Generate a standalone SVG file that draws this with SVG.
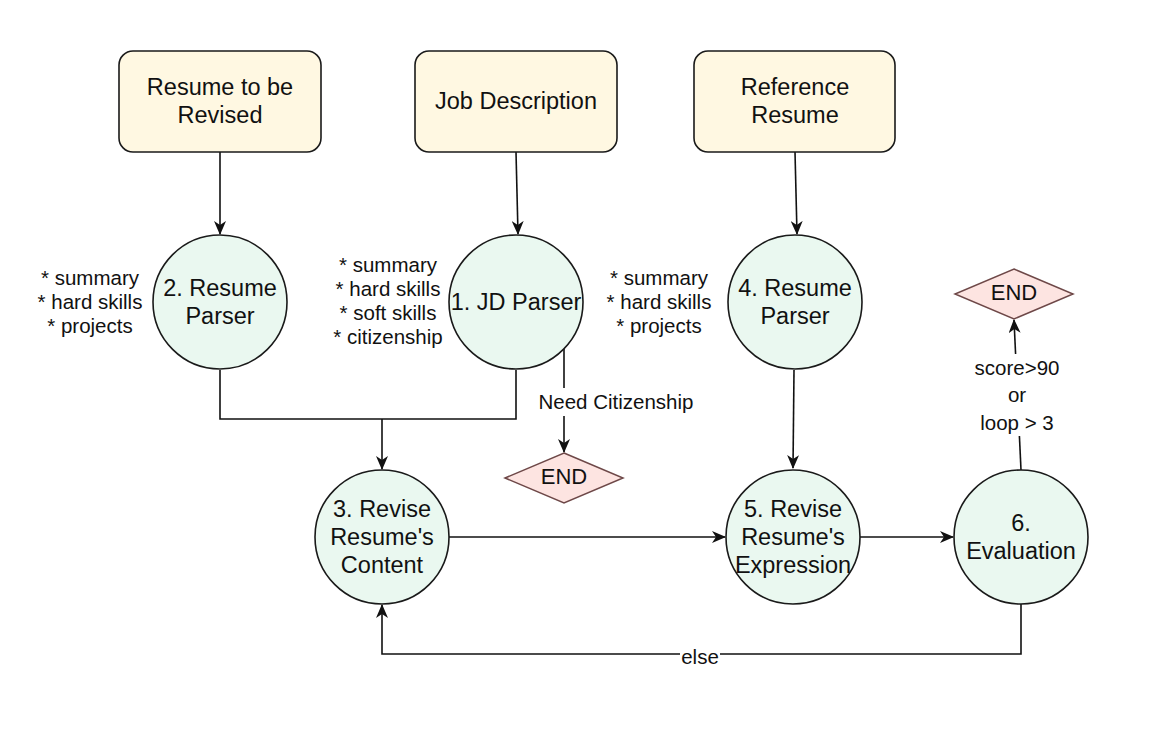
<svg xmlns="http://www.w3.org/2000/svg" width="1154" height="734" viewBox="0 0 1154 734">
<style>
  .box { fill: #fff8e2; stroke: #1a1a1a; stroke-width: 1.6; }
  .circ { fill: #eaf8f0; stroke: #1a1a1a; stroke-width: 1.6; }
  .dia { fill: #fde4e1; stroke: #6e4848; stroke-width: 1.5; }
  .edge { fill: none; stroke: #111; stroke-width: 1.6; }
  .nt { font-family: "Liberation Sans", Arial, sans-serif; font-size: 23.5px; fill: #111; text-anchor: middle; }
  .lt { font-family: "Liberation Sans", Arial, sans-serif; font-size: 20.5px; fill: #111; text-anchor: middle; }
  .bg { fill: #ffffff; }
</style>
<defs>
  <marker id="arr" viewBox="0 0 14 12" refX="13" refY="6" markerWidth="14" markerHeight="12" markerUnits="userSpaceOnUse" orient="auto">
    <path d="M0,0 L14,6 L0,12 L4,6 z" fill="#111"/>
  </marker>
</defs>
<rect width="1154" height="734" fill="#ffffff"/>

<g id="connectors">
  <path class="edge" d="M220,152 L220,234" marker-end="url(#arr)"/>
  <path class="edge" d="M516,152 L518,234" marker-end="url(#arr)"/>
  <path class="edge" d="M795,152 L797,234" marker-end="url(#arr)"/>
  <path class="edge" d="M220,370 L220,419 L516,419 L516,370"/>
  <path class="edge" d="M382,419 L382,469" marker-end="url(#arr)"/>
  <path class="edge" d="M564,349 L564,452" marker-end="url(#arr)"/>
  <path class="edge" d="M794,370 L793,468" marker-end="url(#arr)"/>
  <path class="edge" d="M449,537 L725,537" marker-end="url(#arr)"/>
  <path class="edge" d="M860,537 L953,537" marker-end="url(#arr)"/>
  <path class="edge" d="M1021,604 L1021,654 L382,654 L382,605" marker-end="url(#arr)"/>
  <path class="edge" d="M1021,470 L1014,320" marker-end="url(#arr)"/>
  <rect class="bg" x="538" y="388" width="156" height="28"/>
  <text class="lt" x="616" y="409">Need Citizenship</text>
  <rect class="bg" x="680" y="645" width="40" height="22"/>
  <text class="lt" x="700" y="664">else</text>
  <rect class="bg" x="966" y="354" width="102" height="82"/>
  <text class="lt" x="1017" y="375">score&gt;90</text>
  <text class="lt" x="1017" y="402">or</text>
  <text class="lt" x="1017" y="430">loop &gt; 3</text>
</g>

<g id="resume-input">
  <rect class="box" x="119" y="51" width="202" height="101" rx="14"/>
  <text class="nt" x="220" y="95">Resume to be</text>
  <text class="nt" x="220" y="123">Revised</text>
</g>
<g id="job-description">
  <rect class="box" x="415" y="51" width="202" height="101" rx="14"/>
  <text class="nt" x="516" y="109">Job Description</text>
</g>
<g id="reference-resume">
  <rect class="box" x="694" y="51" width="201" height="101" rx="14"/>
  <text class="nt" x="795" y="95">Reference</text>
  <text class="nt" x="795" y="123">Resume</text>
</g>

<g id="resume-parser-2">
  <circle class="circ" cx="220" cy="302" r="67"/>
  <text class="nt" x="220" y="296">2. Resume</text>
  <text class="nt" x="220" y="324">Parser</text>
</g>
<g id="jd-parser-1">
  <circle class="circ" cx="516" cy="302" r="67"/>
  <text class="nt" x="516" y="310">1. JD Parser</text>
</g>
<g id="resume-parser-4">
  <circle class="circ" cx="795" cy="302" r="67"/>
  <text class="nt" x="795" y="296">4. Resume</text>
  <text class="nt" x="795" y="324">Parser</text>
</g>

<g id="label-left">
  <text class="lt" x="90" y="285">* summary</text>
  <text class="lt" x="90" y="309">* hard skills</text>
  <text class="lt" x="90" y="333">* projects</text>
</g>
<g id="label-middle">
  <text class="lt" x="388" y="272">* summary</text>
  <text class="lt" x="388" y="296">* hard skills</text>
  <text class="lt" x="388" y="320">* soft skills</text>
  <text class="lt" x="388" y="344">* citizenship</text>
</g>
<g id="label-right">
  <text class="lt" x="659" y="285">* summary</text>
  <text class="lt" x="659" y="309">* hard skills</text>
  <text class="lt" x="659" y="333">* projects</text>
</g>

<g id="end-1">
  <polygon class="dia" points="564,453 623,478 564,503 505,478"/>
  <text class="nt" x="564" y="484" style="font-size:22px">END</text>
</g>
<g id="revise-content-3">
  <circle class="circ" cx="382" cy="537" r="67"/>
  <text class="nt" x="382" y="517">3. Revise</text>
  <text class="nt" x="382" y="545">Resume's</text>
  <text class="nt" x="382" y="573">Content</text>
</g>
<g id="revise-expression-5">
  <circle class="circ" cx="793" cy="537" r="67"/>
  <text class="nt" x="793" y="517">5. Revise</text>
  <text class="nt" x="793" y="545">Resume's</text>
  <text class="nt" x="793" y="573">Expression</text>
</g>
<g id="evaluation-6">
  <circle class="circ" cx="1021" cy="537" r="67"/>
  <text class="nt" x="1021" y="531">6.</text>
  <text class="nt" x="1021" y="559">Evaluation</text>
</g>
<g id="end-2">
  <polygon class="dia" points="1014,269 1073,294 1014,319 955,294"/>
  <text class="nt" x="1014" y="300" style="font-size:22px">END</text>
</g>
</svg>
